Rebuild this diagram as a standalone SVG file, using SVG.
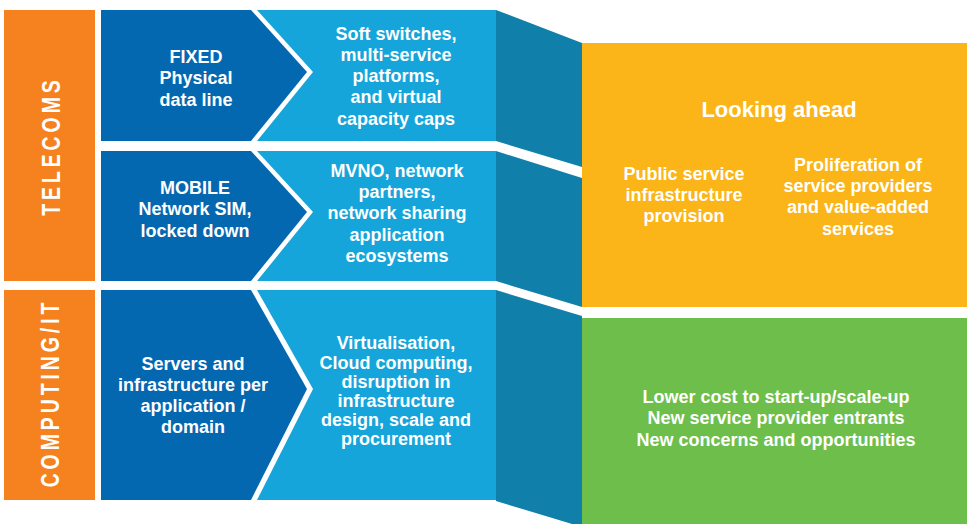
<svg xmlns="http://www.w3.org/2000/svg" width="967" height="524" viewBox="0 0 967 524">
<style>
.orange{fill:#F5821F}
.dark{fill:#0468B1}
.light{fill:#15A5DB}
.teal{fill:#1080AA}
.yellow{fill:#FBB518}
.green{fill:#6DBE4B}
.white{fill:#FFFFFF}
text{font-family:"Liberation Sans",Arial,sans-serif;font-weight:bold;fill:#FFFFFF;text-anchor:middle}
.t{font-size:18px}
.h{font-size:22px}
.v{font-size:25px;letter-spacing:5px}
</style>
<rect width="967" height="524" fill="#FFFFFF"/>

<g id="label-telecoms">
<rect class="orange" x="4" y="10" width="91" height="271"/>
<text class="v" transform="translate(60,148) rotate(-90) scale(0.78,1)" dx="2.5">TELECOMS</text>
</g>
<g id="label-computing">
<rect class="orange" x="4" y="290" width="91" height="210"/>
<text class="v" transform="translate(59,395) rotate(-90) scale(0.78,1)" dx="2.5">COMPUTING/IT</text>
</g>

<g id="connectors">
<polygon class="teal" points="496,10 582,43 582,167 496,141"/>
<polygon class="teal" points="496,151 582,178 582,307 496,281"/>
<polygon class="teal" points="496,290 582,316 582,527 496,501"/>
</g>

<g id="fixed-now">
<rect class="light" x="101" y="10" width="395" height="131"/>
<polygon class="white" points="101,10 257,10 313,72 257,141 101,141"/>
<polygon class="dark" points="101,10 251,10 307,72 251,141 101,141"/>
<text class="t" x="196" y="63">FIXED</text>
<text class="t" x="196" y="84">Physical</text>
<text class="t" x="196" y="105.5">data line</text>
</g>
<g id="fixed-next">
<text class="t" x="396" y="40">Soft switches,</text>
<text class="t" x="396" y="61">multi-service</text>
<text class="t" x="396" y="82">platforms,</text>
<text class="t" x="396" y="103">and virtual</text>
<text class="t" x="396" y="124.5">capacity caps</text>
</g>

<g id="mobile-now">
<rect class="light" x="101" y="151" width="395" height="130"/>
<polygon class="white" points="101,151 257,151 313,212 257,281 101,281"/>
<polygon class="dark" points="101,151 251,151 307,212 251,281 101,281"/>
<text class="t" x="195" y="194">MOBILE</text>
<text class="t" x="195" y="215">Network SIM,</text>
<text class="t" x="195" y="236.5">locked down</text>
</g>
<g id="mobile-next">
<text class="t" x="397" y="176.5">MVNO, network</text>
<text class="t" x="397" y="198">partners,</text>
<text class="t" x="397" y="219">network sharing</text>
<text class="t" x="397" y="240.5">application</text>
<text class="t" x="397" y="262">ecosystems</text>
</g>

<g id="computing-now">
<rect class="light" x="101" y="290" width="395" height="210"/>
<polygon class="white" points="101,290 257,290 313,389 257,500 101,500"/>
<polygon class="dark" points="101,290 251,290 307,389 251,500 101,500"/>
<text class="t" x="193" y="370">Servers and</text>
<text class="t" x="193" y="391">infrastructure per</text>
<text class="t" x="193" y="412">application /</text>
<text class="t" x="193" y="433">domain</text>
</g>
<g id="computing-next">
<text class="t" x="396" y="349">Virtualisation,</text>
<text class="t" x="396" y="368.5">Cloud computing,</text>
<text class="t" x="396" y="387.5">disruption in</text>
<text class="t" x="396" y="406.5">infrastructure</text>
<text class="t" x="396" y="426">design, scale and</text>
<text class="t" x="396" y="445">procurement</text>
</g>

<g id="looking-ahead">
<rect class="yellow" x="582" y="43" width="385" height="264"/>
<text class="h" x="779" y="116.5">Looking ahead</text>
<text class="t" x="684" y="180">Public service</text>
<text class="t" x="684" y="201">infrastructure</text>
<text class="t" x="684" y="222">provision</text>
<text class="t" x="858" y="171">Proliferation of</text>
<text class="t" x="858" y="192">service providers</text>
<text class="t" x="858" y="213">and value-added</text>
<text class="t" x="858" y="234.5">services</text>
</g>

<g id="computing-outlook">
<rect class="green" x="582" y="318" width="385" height="206"/>
<text class="t" x="776" y="403">Lower cost to start-up/scale-up</text>
<text class="t" x="776" y="424">New service provider entrants</text>
<text class="t" x="776" y="445.5">New concerns and opportunities</text>
</g>
</svg>
